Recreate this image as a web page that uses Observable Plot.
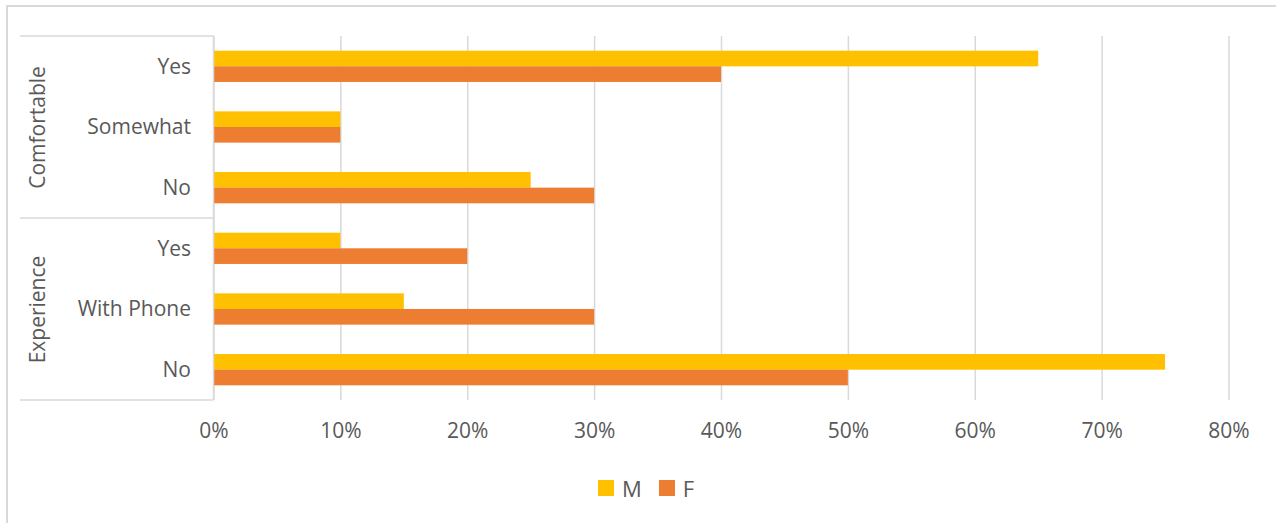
<!DOCTYPE html>
<html><head><meta charset="utf-8">
<script src="https://cdn.jsdelivr.net/npm/d3@7"></script>
<script src="https://cdn.jsdelivr.net/npm/@observablehq/plot@0.6"></script>
<style>
html,body{margin:0;padding:0;background:#fff;}
#wrap{position:relative;width:1276px;height:523px;overflow:hidden;font-family:"Open Sans",sans-serif;}
#border{position:absolute;left:6px;top:5px;width:1300px;height:560px;border:2px solid #d9d9d9;box-sizing:border-box;}
#chart{position:absolute;left:0;top:0;}
#legend{position:absolute;left:0;top:471px;width:1292px;display:flex;justify-content:center;}
#legend span svg{margin-right:8px !important;}
#legend span{margin-right:17px !important;}
#legend span:last-child{margin-right:0 !important;}
</style></head>
<body><div id="wrap"><div id="border"></div><div id="chart"></div><div id="legend"></div></div>
<script>
const groupNames = ["Comfortable", "Experience"];
const comfortableLabels = ["Yes", "Somewhat", "No"];
const experienceLabels = ["Yes", "With Phone", "No"];
const seriesNames = ["M", "F"];
const mValues = [0.65, 0.10, 0.25, 0.10, 0.15, 0.75];
const fValues = [0.40, 0.10, 0.30, 0.20, 0.30, 0.50];
const xTicks = [0, 0.1, 0.2, 0.3, 0.4, 0.5, 0.6, 0.7, 0.8];
const colors = ["#FFC000", "#ED7D31"];

const groupItems = [comfortableLabels, experienceLabels];
const rows = groupNames.flatMap((g, gi) => groupItems[gi].map(l => ({group: g, label: l, key: g + "|" + l})));
const table = rows.map((r, i) => ({...r, M: mValues[i], F: fValues[i]}));
const keys = rows.map(r => r.key);
const groupLabels = groupNames.map((g, gi) => ({name: g, key: g + "|" + groupItems[gi][1]}));
const groupStarts = groupNames.map((g, gi) => g + "|" + groupItems[gi][0]);

const textColor = "#595959";
const lineColor = "#d9d9d9";
const fs = 21;

function bracket(index, scales, values, dims) {
  const y = scales.y;
  const x1 = dims.marginLeft;
  const x0 = 20;
  const top = dims.marginTop, bottom = dims.height - dims.marginBottom;
  const g = d3.create("svg:g").attr("stroke", lineColor).attr("stroke-width", 1.5).attr("fill", "none");
  const ys = groupStarts.map(k => y(k));
  ys.push(bottom);
  ys.forEach(v => g.append("line").attr("x1", x0).attr("x2", x1).attr("y1", v).attr("y2", v));
  g.append("line").attr("x1", x1).attr("x2", x1).attr("y1", top).attr("y2", bottom);
  return g.node();
}

const chart = Plot.plot({
  width: 1276,
  height: 460,
  marginLeft: 213.5,
  marginRight: 47.5,
  marginTop: 36,
  marginBottom: 60,
  style: {fontFamily: "Open Sans", fontSize: fs + "px", color: textColor, background: "transparent"},
  x: {domain: [0, 0.8], ticks: xTicks},
  y: {domain: keys, padding: 0, round: false},
  marks: [
    Plot.gridX(xTicks, {stroke: lineColor, strokeOpacity: 1, strokeWidth: 1.5}),
    Plot.barX(table, {y: "key", x: "M", fill: colors[0], insetTop: 14.7, insetBottom: 30.3}),
    Plot.barX(table, {y: "key", x: "F", fill: colors[1], insetTop: 30.3, insetBottom: 14.7}),
    bracket,
    Plot.axisX(xTicks, {tickSize: 0, tickPadding: 23, tickFormat: d3.format(".0%"), fontSize: fs, fill: textColor, label: null}),
    Plot.axisY({tickSize: 0, tickPadding: 23, tickFormat: k => k.split("|")[1], fontSize: fs, fill: textColor, label: null}),
    Plot.text(groupLabels, {y: "key", text: "name", frameAnchor: "left", textAnchor: "middle", dx: -175.5, rotate: -90, fontSize: fs, fill: textColor})
  ]
});
document.getElementById("chart").appendChild(chart);

const legend = Plot.legend({
  color: {domain: seriesNames, range: colors},
  legend: "swatches",
  swatchSize: 16,
  style: {fontFamily: "Open Sans", fontSize: "22px", color: textColor}
});
document.getElementById("legend").appendChild(legend);
</script>
</body></html>
